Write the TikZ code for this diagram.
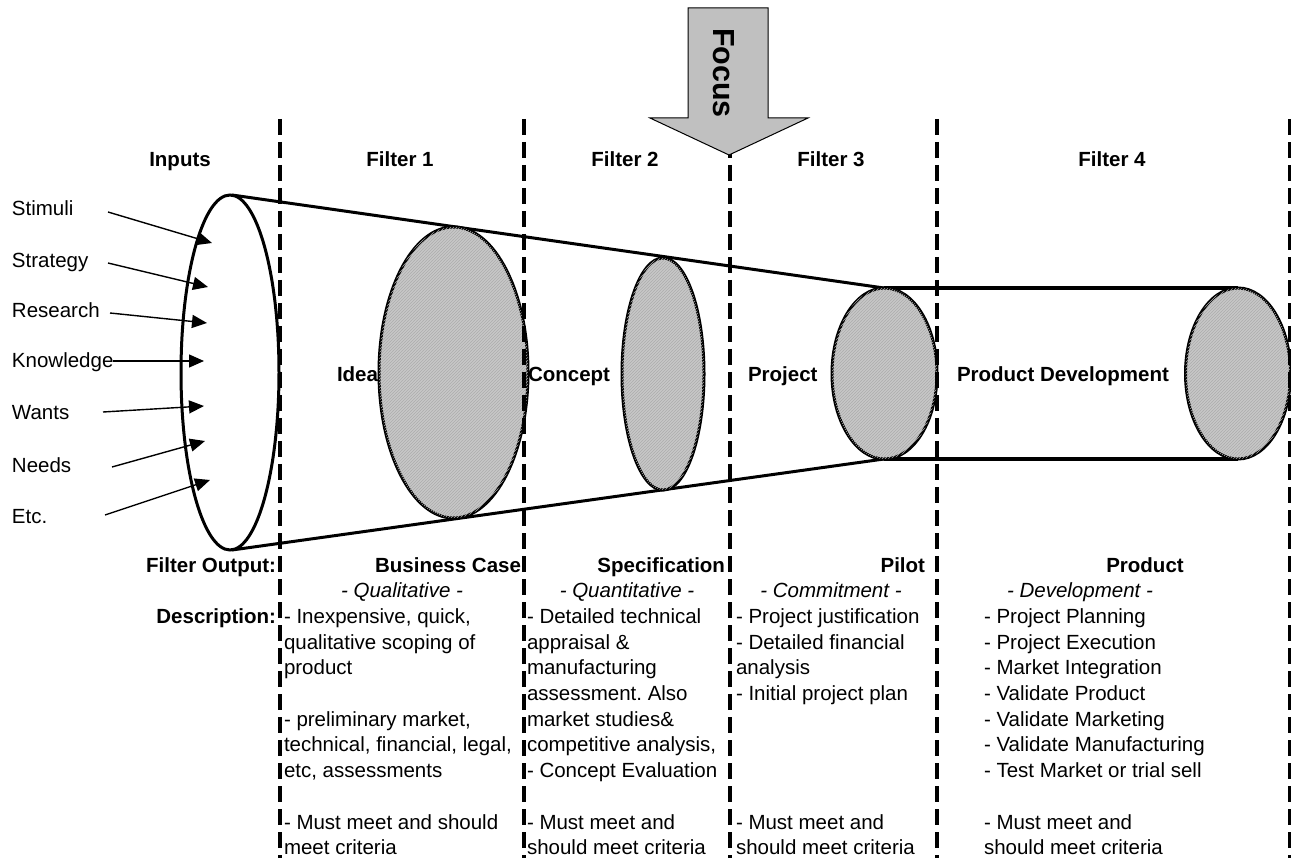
\documentclass[tikz,border=0pt]{standalone}
\usepackage{fontspec}
\setmainfont{Liberation Sans}
\frenchspacing
\usetikzlibrary{arrows.meta,patterns}
\definecolor{discgrey}{RGB}{200,200,200}
\definecolor{hatchgrey}{RGB}{172,172,172}
\definecolor{focusgrey}{RGB}{192,192,192}

% one line of text per row; rows are 25.7pt apart, row 0 on baseline 572
\newcommand\textblock[4]{%
  \foreach \t [count=\i from #3] in {#4} {
    \node[body] (#1-\i) at (#2, {572+25.7*\i}) {\t};
  }}

\begin{document}
\begin{tikzpicture}[x=1pt, y=-1pt,
  every node/.style={inner sep=0pt, outer sep=0pt,
    font=\fontsize{20.5pt}{25.7pt}\selectfont},
  hdr/.style={font=\fontsize{20.5pt}{25.7pt}\selectfont\bfseries, anchor=base},
  stage/.style={font=\fontsize{20.5pt}{25.7pt}\selectfont\bfseries, anchor=base west},
  outlabel/.style={font=\fontsize{20.5pt}{25.7pt}\selectfont\bfseries, anchor=base east},
  sub/.style={font=\fontsize{20.5pt}{25.7pt}\selectfont\itshape, anchor=base},
  body/.style={anchor=base west},
  source/.style={anchor=base west},
  divider/.style={line width=4pt, dash pattern=on 16pt off 7pt},
  rim/.style={line width=3pt},
  disc/.style={rim, fill=discgrey, postaction={pattern=north east lines, pattern color=hatchgrey}},
  feed/.style={line width=1.4pt, -{Triangle[length=15pt,width=13pt]}},
]
\useasboundingbox (0,0) rectangle (1291,858);

% funnel and tube outline
\coordinate (funnelTop) at (232,195);
\coordinate (funnelBot) at (232,550);
\coordinate (tubeTopL) at (884,288);
\coordinate (tubeBotL) at (884,459);
\coordinate (tubeTopR) at (1238,288);
\coordinate (tubeBotR) at (1238,459);
\draw[rim] (funnelTop) -- (tubeTopL);
\draw[rim] (funnelBot) -- (tubeBotL);
\draw[line width=4pt] (tubeTopL) -- (tubeTopR);
\draw[line width=4pt] (tubeBotL) -- (tubeBotR);

% mouth of the funnel and the filter discs
\draw[rim, fill=white] (230,372.5) ellipse [x radius=49pt, y radius=177.5pt];
\draw[disc] (453.5,372.5) ellipse [x radius=74.5pt, y radius=145.5pt];
\draw[disc] (663,374) ellipse [x radius=41pt, y radius=116pt];
\draw[disc] (884.5,373.5) ellipse [x radius=52.5pt, y radius=85.5pt];
\draw[disc] (1238,373.5) ellipse [x radius=52.5pt, y radius=85.5pt];

% column dividers
\draw[divider] (280,119) -- (280,858);
\draw[divider] (524,119) -- (524,858);
\draw[divider] (730,119) -- (730,858);
\draw[divider] (937,119) -- (937,858);
\draw[divider] (1290,119) -- (1290,858);

% focus arrow
\draw[line width=1pt, fill=focusgrey]
  (688,8) -- (768,8) -- (768,118) -- (808,118) -- (729,155) -- (650,118) -- (688,118) -- cycle;
\node[font=\fontsize{30.5pt}{30pt}\selectfont\bfseries, rotate=-90] (focus) at (724,73) {Focus};

% column headings
\node[hdr] (hInputs) at (180,167) {Inputs};
\node[hdr] (hF1) at (400,167) {Filter 1};
\node[hdr] (hF2) at (625,167) {Filter 2};
\node[hdr] (hF3) at (831,167) {Filter 3};
\node[hdr] (hF4) at (1112,167) {Filter 4};

% inputs feeding the funnel
\node[source] (sStimuli) at (12,216) {Stimuli};
\node[source] (sStrategy) at (12,268) {Strategy};
\node[source] (sResearch) at (12,318) {Research};
\node[source] (sKnowledge) at (12,368) {Knowledge};
\node[source] (sWants) at (12,420) {Wants};
\node[source] (sNeeds) at (12,472) {Needs};
\node[source] (sEtc) at (12,523) {Etc.};

\coordinate (tStimuli) at (108,212);   \coordinate (pStimuli) at (212,243);
\coordinate (tStrategy) at (108,263);  \coordinate (pStrategy) at (208,287);
\coordinate (tResearch) at (110,313);  \coordinate (pResearch) at (207,323);
\coordinate (pKnowledge) at (204,361);
\coordinate (tWants) at (103,412);     \coordinate (pWants) at (204,406);
\coordinate (tNeeds) at (112,467);     \coordinate (pNeeds) at (205,441);
\coordinate (tEtc) at (105,515);       \coordinate (pEtc) at (210,480);

\draw[feed] (tStimuli) -- (pStimuli);
\draw[feed] (tStrategy) -- (pStrategy);
\draw[feed] (tResearch) -- (pResearch);
\draw[feed] (sKnowledge.east |- pKnowledge) -- (pKnowledge);
\draw[feed] (tWants) -- (pWants);
\draw[feed] (tNeeds) -- (pNeeds);
\draw[feed] (tEtc) -- (pEtc);

% stage names
\node[stage] (idea) at (337,382) {Idea};
\node[stage] (concept) at (528,382) {Concept};
\node[stage] (project) at (748,382) {Project};
\node[stage] (proddev) at (957,382) {Product Development};

% outputs
\node[outlabel] (lOutput) at (276,572) {Filter Output:};
\node[outlabel] (lDesc) at (276,623.4) {Description:};
\node[outlabel] (oBusiness) at (521,572) {Business Case};
\node[outlabel] (oSpec) at (725,572) {Specification};
\node[outlabel] (oPilot) at (925,572) {Pilot};
\node[hdr] (oProduct) at (1145,572) {Product};

\node[sub] (qQual) at (402,597.7) {- Qualitative -};
\node[sub] (qQuant) at (627,597.7) {- Quantitative -};
\node[sub] (qCommit) at (831,597.7) {- Commitment -};
\node[sub] (qDev) at (1080,597.7) {- Development -};

% descriptions
\textblock{c1a}{284}{2}{{- Inexpensive, quick,},{qualitative scoping of},{product}}
\textblock{c1b}{284}{6}{{- preliminary market,},{technical, financial, legal,},{etc, assessments}}
\textblock{c1c}{284}{10}{{- Must meet and should},{meet criteria}}

\textblock{c2a}{527}{2}{{- Detailed technical},{appraisal \&},{manufacturing},{assessment. Also},{market studies\&},{competitive analysis,},{- Concept Evaluation}}
\textblock{c2c}{527}{10}{{- Must meet and},{should meet criteria}}

\textblock{c3a}{736}{2}{{- Project justification},{- Detailed financial},{analysis},{- Initial project plan}}
\textblock{c3c}{736}{10}{{- Must meet and},{should meet criteria}}

\textblock{c4a}{984}{2}{{- Project Planning},{- Project Execution},{- Market Integration},{- Validate Product},{- Validate Marketing},{- Validate Manufacturing},{- Test Market or trial sell}}
\textblock{c4c}{984}{10}{{- Must meet and},{should meet criteria}}
\end{tikzpicture}
\end{document}
